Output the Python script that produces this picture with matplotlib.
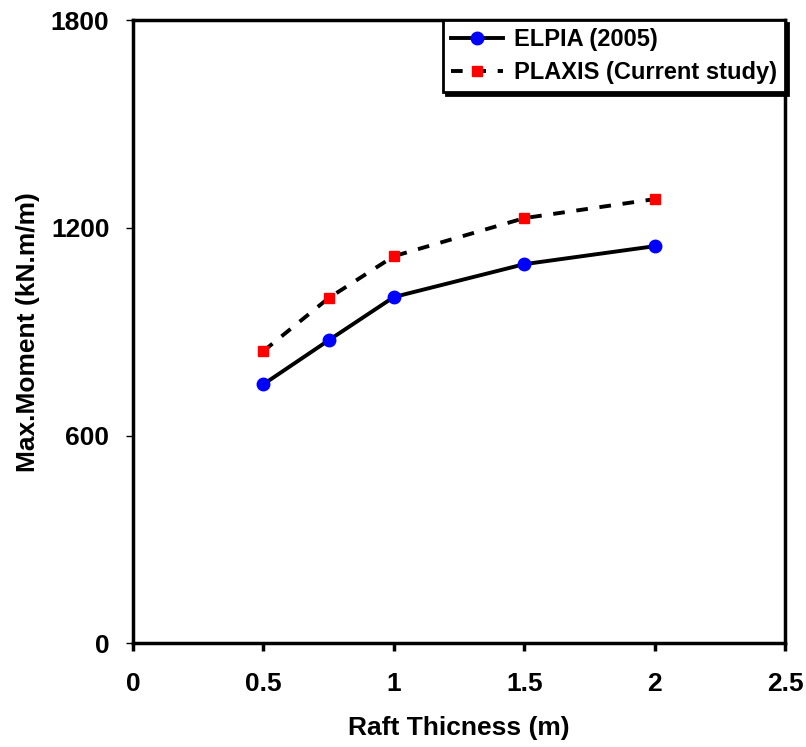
import matplotlib.pyplot as plt

thickness = [0.5, 0.75, 1.0, 1.5, 2.0]
elpia = [748, 875, 1000, 1095, 1147]
plaxis = [844, 997, 1118, 1228, 1283]

plt.rcParams['font.family'] = ['Liberation Sans', 'DejaVu Sans']
plt.rcParams['font.weight'] = 'bold'

fig = plt.figure(figsize=(8.06, 7.47), dpi=100)
ax = fig.add_axes([0.165, 0.139, 0.809, 0.834])

ax.plot(thickness, elpia, color='black', lw=2.8, marker='o', ms=9,
        mfc='blue', mec='blue', label='ELPIA (2005)')
ax.plot(thickness, plaxis, color='black', lw=2.8, ls=(0, (3, 3)), marker='s', ms=7.5,
        mfc='red', mec='red', label='PLAXIS (Current study)')

ax.set_xlim(0, 2.5)
ax.set_ylim(0, 1800)
ax.set_xticks([0, 0.5, 1, 1.5, 2, 2.5])
ax.set_xticklabels(['0', '0.5', '1', '1.5', '2', '2.5'])
ax.set_yticks([0, 600, 1200, 1800])

for s in ax.spines.values():
    s.set_linewidth(2.5)
ax.tick_params(axis='x', direction='out', length=6, width=2.5, labelsize=19, pad=15)
ax.tick_params(axis='y', direction='out', length=5, width=1, labelsize=19, pad=12)

ax.set_xlabel('Raft Thicness (m)', fontsize=19, fontweight='bold', labelpad=14)
ax.set_ylabel('Max.Moment (kN.m/m)', fontsize=19, fontweight='bold', labelpad=8)

leg = ax.legend(loc='upper right', borderaxespad=0, fontsize=17, frameon=True,
                fancybox=False, shadow={'color': 'black', 'alpha': 1},
                handlelength=2.2, handletextpad=0.45,
                borderpad=0.35, labelspacing=0.4)
leg.get_frame().set_edgecolor('black')
leg.get_frame().set_linewidth(2)

fig.savefig('out.png', dpi=100)
